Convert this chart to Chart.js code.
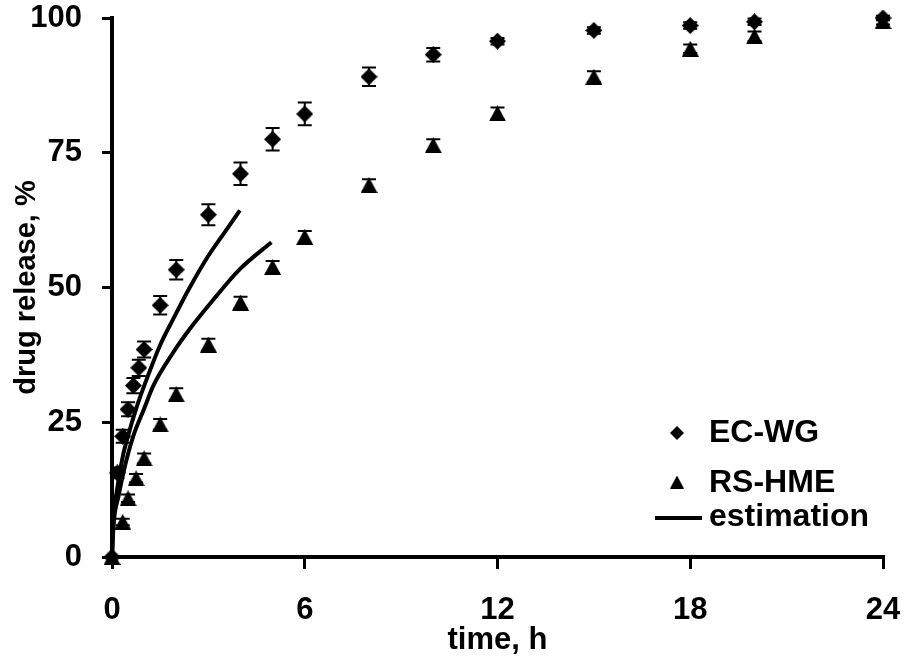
<!DOCTYPE html>
<html>
<head>
<meta charset="utf-8">
<script src="https://cdn.jsdelivr.net/npm/chart.js@4.4.1/dist/chart.umd.min.js"></script>
<style>
  html, body { margin: 0; padding: 0; background: #ffffff; }
  #wrap { width: 907px; height: 661px; position: relative; }
</style>
</head>
<body>
<div id="wrap"><canvas id="c" width="907" height="661"></canvas></div>
<script>
// ---------------- data ----------------
const ecTime    = [0, 0.167, 0.333, 0.5, 0.667, 0.833, 1, 1.5, 2, 3, 4, 5, 6, 8, 10, 12, 15, 18, 20, 24];
const ecRelease = [0, 15.6, 22.4, 27.4, 31.8, 35.1, 38.5, 46.7, 53.3, 63.5, 71.1, 77.5, 82.2, 89.1, 93.2, 95.7, 97.7, 98.6, 99.3, 100];
const ecError   = [0, 1.0, 1.2, 1.3, 1.4, 1.5, 1.5, 1.7, 1.8, 1.95, 2.1, 2.1, 2.1, 1.7, 1.25, 0.6, 0.6, 0.6, 0.6, 0.4];

const rsTime    = [0, 0.333, 0.5, 0.75, 1, 1.5, 2, 3, 4, 5, 6, 8, 10, 12, 15, 18, 20, 24];
const rsRelease = [0, 6.5, 10.9, 14.6, 18.3, 24.6, 30.2, 39.4, 47.2, 53.8, 59.4, 69.0, 76.4, 82.3, 89.1, 94.3, 96.6, 99.4];
const rsError   = [0, 0.6, 0.7, 0.8, 0.9, 1.0, 1.1, 1.1, 1.1, 1.1, 1.1, 1.1, 1.1, 1.1, 1.0, 0.8, 0.9, 0.6];

const ecEstTime  = [0, 0.05, 0.17, 0.33, 0.5, 0.75, 1.08, 1.49, 1.9, 2.42, 2.99, 3.5, 3.98];
const ecEstValue = [0, 7, 13, 18.5, 22.5, 27.5, 33, 39.2, 44.1, 50.0, 55.8, 60.2, 64.3];

const rsEstTime  = [0, 0.05, 0.2, 0.4, 0.66, 1, 1.28, 1.9, 2.42, 3.15, 3.98, 4.96];
const rsEstValue = [0, 6, 11.2, 16.8, 22.4, 27.5, 31.7, 37.9, 42.3, 47.7, 53.4, 58.4];

const xTicks = [0, 6, 12, 18, 24];
const yTicks = [0, 25, 50, 75, 100];
const legendLabels = ['EC-WG', 'RS-HME', 'estimation'];
const xTitle = 'time, h';
const yTitle = 'drug release, %';

// ---------------- marker images ----------------
function makeDiamond(w, h) {
  const c = document.createElement('canvas'); c.width = w; c.height = h;
  const g = c.getContext('2d'); g.fillStyle = '#000';
  g.beginPath(); g.moveTo(w / 2, 0); g.lineTo(w, h / 2); g.lineTo(w / 2, h); g.lineTo(0, h / 2); g.closePath(); g.fill();
  return c;
}
function makeTriangle(w, h) {
  const c = document.createElement('canvas'); c.width = w; c.height = h;
  const g = c.getContext('2d'); g.fillStyle = '#000';
  g.beginPath(); g.moveTo(w / 2, 0); g.lineTo(w, h); g.lineTo(0, h); g.closePath(); g.fill();
  return c;
}
const diamondImg = makeDiamond(17, 17);
const triangleImg = makeTriangle(17, 16);
const diamondLeg = makeDiamond(14, 14);
const triangleLeg = makeTriangle(14, 13);

const pts = (xs, ys) => xs.map((x, i) => ({ x: x, y: ys[i] }));

// ---------------- plugins ----------------
const errorBars = {
  id: 'errorBars',
  beforeDatasetsDraw(chart) {
    const ctx = chart.ctx, xs = chart.scales.x, ys = chart.scales.y;
    const sets = [[ecTime, ecRelease, ecError], [rsTime, rsRelease, rsError]];
    ctx.save();
    ctx.strokeStyle = '#000'; ctx.lineWidth = 2;
    sets.forEach(([t, v, e]) => {
      t.forEach((tt, i) => {
        if (!e[i]) return;
        const x = xs.getPixelForValue(tt);
        const yHi = ys.getPixelForValue(v[i] + e[i]);
        const yLo = ys.getPixelForValue(v[i] - e[i]);
        ctx.beginPath();
        ctx.moveTo(x, yHi); ctx.lineTo(x, yLo);
        ctx.moveTo(x - 7, yHi); ctx.lineTo(x + 7, yHi);
        ctx.moveTo(x - 7, yLo); ctx.lineTo(x + 7, yLo);
        ctx.stroke();
      });
    });
    ctx.restore();
  }
};

const insetLegend = {
  id: 'insetLegend',
  afterDraw(chart) {
    const ctx = chart.ctx;
    ctx.save();
    ctx.fillStyle = '#000';
    ctx.font = 'bold 32px "Liberation Sans", Arial, sans-serif';
    ctx.textBaseline = 'middle';
    ctx.textAlign = 'left';
    ctx.drawImage(diamondLeg, 677 - 7, 433 - 7);
    ctx.fillText(legendLabels[0], 709, 433);
    ctx.drawImage(triangleLeg, 677 - 7, 482 - 6.5);
    ctx.fillText(legendLabels[1], 709, 483);
    ctx.strokeStyle = '#000'; ctx.lineWidth = 4;
    ctx.beginPath(); ctx.moveTo(655, 518); ctx.lineTo(702, 518); ctx.stroke();
    ctx.fillText(legendLabels[2], 709, 517);
    ctx.restore();
  }
};

// ---------------- chart ----------------
const tickFont = { family: '"Liberation Sans", Arial, sans-serif', size: 31, weight: 'bold', lineHeight: 1 };

new Chart(document.getElementById('c'), {
  type: 'scatter',
  data: {
    datasets: [
      { label: legendLabels[0], data: pts(ecTime, ecRelease), pointStyle: diamondImg, clip: false, showLine: false },
      { label: legendLabels[1], data: pts(rsTime, rsRelease), pointStyle: triangleImg, clip: false, showLine: false },
      { label: legendLabels[2], data: pts(ecEstTime, ecEstValue), showLine: true, pointRadius: 0, borderColor: '#000', borderWidth: 4, cubicInterpolationMode: 'monotone', clip: false },
      { label: legendLabels[2] + ' ', data: pts(rsEstTime, rsEstValue), showLine: true, pointRadius: 0, borderColor: '#000', borderWidth: 4, cubicInterpolationMode: 'monotone', clip: false }
    ]
  },
  options: {
    responsive: false,
    devicePixelRatio: 1,
    animation: false,
    events: [],
    layout: { padding: { top: 18, right: 24, left: 0, bottom: 0 } },
    plugins: { legend: { display: false }, tooltip: { enabled: false } },
    scales: {
      x: {
        type: 'linear', min: 0, max: 24,
        afterBuildTicks: s => { s.ticks = xTicks.map(v => ({ value: v })); },
        afterFit: s => { s.height = 104; s.paddingLeft = 0; s.paddingRight = 0; },
        ticks: { font: tickFont, color: '#000', padding: 26, maxRotation: 0 },
        grid: { drawOnChartArea: false, drawTicks: true, tickLength: 12, lineWidth: 3, color: '#000' },
        border: { display: true, width: 4, color: '#000' },
        title: { display: true, text: xTitle, color: '#000', font: { family: '"Liberation Sans", Arial, sans-serif', size: 31, weight: 'bold', lineHeight: 1.2 }, padding: { top: 0, bottom: 2 } }
      },
      y: {
        type: 'linear', min: 0, max: 100,
        afterBuildTicks: s => { s.ticks = yTicks.map(v => ({ value: v })); },
        afterFit: s => { s.width = 112; s.paddingTop = 0; s.paddingBottom = 0; },
        ticks: { font: tickFont, color: '#000', padding: 20 },
        grid: { drawOnChartArea: false, drawTicks: true, tickLength: 10, lineWidth: 3, color: '#000' },
        border: { display: true, width: 4, color: '#000' },
        title: { display: true, text: yTitle, color: '#000', font: { family: '"Liberation Sans", Arial, sans-serif', size: 29, weight: 'bold', lineHeight: 1.2 }, padding: { top: 10, bottom: 0 } }
      }
    }
  },
  plugins: [errorBars, insetLegend]
});
</script>
</body>
</html>
